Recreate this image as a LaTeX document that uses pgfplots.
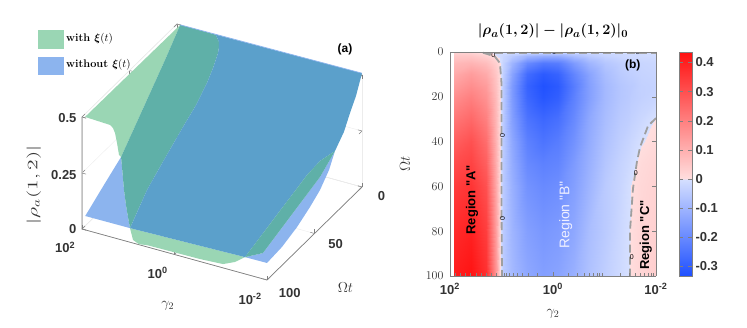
\documentclass[border=0pt]{standalone}
\usepackage{amsmath}
\usepackage{graphicx}
\usepackage{fontspec}
\usepackage{pgfplots}
\pgfplotsset{compat=1.18}
\newfontfamily\arialf{Liberation Sans}
\definecolor{gonly}{HTML}{9AD6B4}
\definecolor{bonly}{HTML}{8CB4EE}
\definecolor{teal1}{HTML}{5FB0A8}
\definecolor{blue1}{HTML}{5BA0CB}
\pgfplotsset{
  patch3d/.style={draw=none, fill=#1, mark=none, forget plot},
  ticktext/.style={font=\arialf\bfseries\fontsize{13}{13}\selectfont, text=black!80},
  contour0/.style={gray!75, line width=1.8pt, dash pattern=on 8pt off 4pt, mark=none},
}
\begin{document}
\begin{tikzpicture}[x=1pt,y=1pt]
\useasboundingbox (0,0) rectangle (747,328);
% panel (a)
\begin{axis}[
  at={(269.5pt,166.5pt)}, anchor=origin,
  x={(-46.25pt,12.75pt)}, y={(-0.95pt,-0.93pt)}, z={(0pt,224pt)},
  xmin=-2, xmax=2, ymin=0, ymax=100, zmin=0, zmax=0.5,
  clip=false,
  xtick={2,0,-2}, xticklabels={10\textsuperscript{2},10\textsuperscript{0},10\textsuperscript{-2}},
  ytick={0,50,100}, yticklabels={0,50,100},
  ztick={0,0.25,0.5}, zticklabels={0,0.25,0.5},
  ticklabel style={ticktext},
  xticklabel style={xshift=-12pt, yshift=-7pt},
  yticklabel style={xshift=13pt},
  zticklabel style={xshift=-2pt, yshift=2pt},
  tick style={gray, line width=0.5pt},
  axis line style={gray!20, line width=0.5pt},
  grid=major, grid style={gray!15, line width=0.4pt},
  xlabel={$\gamma_2$}, ylabel={$\Omega t$},
  zlabel={\scalebox{1.5}[1]{$|\rho_a(1,2)|$}},
  label style={font=\fontsize{14}{14}\selectfont, text=black!80},
  xlabel style={xshift=12pt, yshift=-7pt},
  ylabel style={xshift=-1pt, yshift=-12pt},
  zlabel style={yshift=3pt},
]
\addplot3[gray, line width=0.7pt, mark=none, forget plot] coordinates {(2,100,0.5) (2,100,0) (-2,100,0) (-2,0,0)};
% with xi(t), left sheet
\addplot3[patch3d=gonly] coordinates {
  (1.935,100,0.504) (1.395,100,0.499) (1.33,100,0.489) (1.286,100,0.469) (1.243,100,0.427) (1.2,100,0.376) (1.93,62.3,0.169)
  (1.93,42.3,0.273) (1.93,16,0.410) (1.93,0,0.5)} -- cycle;
% without xi(t), left corner
\addplot3[patch3d=bonly] coordinates {
  (1.93,100,0.062) (1.93,81.3,0.116) (1.93,62.3,0.169) (1.135,100,0.326)
  (1.092,100,0.226) (1.049,100,0.161) (1.005,100,0.110) (0.962,100,0.063)} -- cycle;
% with xi(t), front strip
\addplot3[patch3d=gonly] coordinates {
  (0.962,100,0.063) (0.897,100,0.014) (0.768,100,0.002) (0.595,100,0.008) (-0.551,100,0.011)
  (-1.05,100,0.017) (-1.308,100,0.041) (-1.524,100,0.075)} -- cycle;
% overlap band
\addplot3[patch3d=teal1] coordinates {
  (1.93,62.3,0.169) (1.93,42.3,0.273) (1.93,16,0.410) (1.93,0,0.5) (1.222,0,0.5)
  (1.105,2.5,0.512) (0.99,5,0.498) (0.928,8,0.491) (0.908,10,0.474) (0.852,18,0.443) (0.838,25,0.407)
  (0.829,37,0.358) (0.843,50,0.314) (0.945,64,0.227) (1.005,80,0.148)
  (0.962,100,0.063) (1.005,100,0.110) (1.049,100,0.161) (1.092,100,0.226) (1.135,100,0.326)} -- cycle;
% overlap, main part
\addplot3[patch3d=blue1] coordinates {
  (0.962,100,0.063) (-1.524,100,0.075) (-1.3,56.4,0.065) (-1.5,33.6,0.164) (-1.6,24.7,0.196) (-2,28.4,0.279)
  (-2,19,0.325) (-2,12.6,0.383) (-2,6.3,0.433) (-2,0,0.508) (1.222,0,0.5)
  (1.105,2.5,0.512) (0.99,5,0.498) (0.928,8,0.491) (0.908,10,0.474) (0.852,18,0.443) (0.838,25,0.407)
  (0.829,37,0.358) (0.843,50,0.314) (0.945,64,0.227) (1.005,80,0.148)} -- cycle;
% without xi(t), right corner
\addplot3[patch3d=bonly] coordinates {
  (-1.524,100,0.075) (-2,100,0.076) (-2,84.2,0.082) (-2,68.4,0.105) (-2,54.7,0.138) (-2,44.2,0.170) (-2,34.7,0.220) (-2,28.4,0.279)
  (-1.8,34.5,0.176) (-1.7,58,0.108) (-1.9,99.4,0.112)} -- cycle;
% overlap, right part
\addplot3[patch3d=teal1] coordinates {
  (-2,28.4,0.279) (-1.6,24.7,0.196) (-1.5,33.6,0.164) (-1.3,56.4,0.065) (-1.524,100,0.075)
  (-1.9,99.4,0.112) (-1.7,58,0.108) (-1.8,34.5,0.176)} -- cycle;
\addplot3[bonly, line width=0.7pt, mark=none, forget plot] coordinates {(1.93,0,0.5) (-2,0,0.508)};
\end{axis}
% legend of panel (a)
\fill[gonly] (38,279) rectangle (64,298);
\fill[bonly] (38,253) rectangle (64,271);
\node[anchor=west, inner sep=0pt, font=\fontsize{11}{11}\selectfont\bfseries] at (66,289) {with $\boldsymbol{\xi}(t)$};
\node[anchor=west, inner sep=0pt, font=\fontsize{11}{11}\selectfont\bfseries] at (66,263) {without $\boldsymbol{\xi}(t)$};
\node[font=\arialf\bfseries\fontsize{12}{12}\selectfont] at (345,279) {(a)};
% panel (b)
\begin{axis}[
  at={(450pt,52pt)}, anchor=south west,
  width=206pt, height=224pt, scale only axis,
  view={0}{90},
  x dir=reverse, y dir=reverse,
  xmin=-2, xmax=2, ymin=0, ymax=100,
  point meta min=-0.334, point meta max=0.436,
  colormap={rb}{rgb255(0pt)=(31,80,255); rgb255(334pt)=(214,224,255); rgb255(335pt)=(255,222,222); rgb255(770pt)=(255,16,16)},
  colorbar, 
  colorbar style={width=13pt, at={(1.1117,0.5)}, anchor=west, xshift=0pt,
    ytick={-0.3,-0.2,-0.1,0,0.1,0.2,0.3,0.4},
    yticklabels={-0.3,-0.2,-0.1,0,0.1,0.2,0.3,0.4},
    yticklabel style={ticktext},
    axis line style={gray},
    tick style={gray},
  },
  xtick={2,0,-2}, xticklabels={10\textsuperscript{2},10\textsuperscript{0},10\textsuperscript{-2}},
  minor xtick={1.9,1.8,1.7,1.6,1.5,1.4,1.3,1.2,1.1,0.95,0.9,0.85,0.78,0.7,0.6,0.48,0.3,
    -0.3,-0.48,-0.6,-0.7,-0.78,-0.85,-0.9,-0.95,-1.3,-1.48,-1.6,-1.7,-1.78,-1.85,-1.9,-1.95},
  ytick={0,20,40,60,80,100},
  xtick pos=left, ytick pos=right,
  tick align=inside,
  ticklabel style={ticktext},
  xticklabel style={yshift=-4pt},
  yticklabel style={xshift=-3pt},
  tick style={gray, line width=0.5pt},
  axis line style={gray, line width=0.7pt},
  xlabel={$\gamma_2$}, ylabel={$\Omega t$},
  label style={font=\fontsize{14}{14}\selectfont, text=black!80},
  xlabel style={yshift=-8pt},
  ylabel style={yshift=9pt},
  title={$\boldsymbol{|\rho_a(1,2)|-|\rho_a(1,2)|_0}$},
  title style={font=\fontsize{15.5}{15.5}\selectfont, yshift=4pt},
]
\addplot3[surf, shader=interp, mesh/cols=18] coordinates {
(1.93,0,.02) (1.6,0,.02) (1.3,0,-.005) (1.1,0,-.01) (1.02,0,-.01) (.98,0,-.01) (.8,0,-.015) (.5,0,-.02) (.2,0,-.02) (-.1,0,-.02) (-.4,0,-.02) (-.7,0,-.015) (-1,0,-.01) (-1.3,0,-.01) (-1.48,0,-.01) (-1.52,0,-.01) (-1.7,0,-.01) (-2,0,-.005)
(1.93,2,.05) (1.6,2,.05) (1.3,2,.03) (1.1,2,.003) (1.02,2,-.01) (.98,2,-.02) (.8,2,-.05) (.5,2,-.1) (.2,2,-.12) (-.1,2,-.12) (-.4,2,-.08) (-.7,2,-.05) (-1,2,-.03) (-1.3,2,-.02) (-1.48,2,-.015) (-1.52,2,-.015) (-1.7,2,-.012) (-2,2,-.01)
(1.93,5,.08) (1.6,5,.09) (1.3,5,.07) (1.1,5,.03) (1.02,5,.001) (.98,5,-.03) (.8,5,-.1) (.5,5,-.2) (.2,5,-.24) (-.1,5,-.23) (-.4,5,-.16) (-.7,5,-.1) (-1,5,-.06) (-1.3,5,-.04) (-1.48,5,-.03) (-1.52,5,-.03) (-1.7,5,-.025) (-2,5,-.02)
(1.93,10,.11) (1.6,10,.14) (1.3,10,.11) (1.1,10,.05) (1.02,10,.006) (.98,10,-.04) (.8,10,-.14) (.5,10,-.27) (.2,10,-.31) (-.1,10,-.29) (-.4,10,-.21) (-.7,10,-.14) (-1,10,-.08) (-1.3,10,-.05) (-1.48,10,-.04) (-1.52,10,-.04) (-1.7,10,-.03) (-2,10,-.025)
(1.93,15,.14) (1.6,15,.17) (1.3,15,.14) (1.1,15,.06) (1.02,15,.008) (.98,15,-.05) (.8,15,-.16) (.5,15,-.29) (.2,15,-.33) (-.1,15,-.31) (-.4,15,-.23) (-.7,15,-.15) (-1,15,-.09) (-1.3,15,-.06) (-1.48,15,-.05) (-1.52,15,-.05) (-1.7,15,-.035) (-2,15,-.03)
(1.93,20,.17) (1.6,20,.2) (1.3,20,.16) (1.1,20,.07) (1.02,20,.01) (.98,20,-.05) (.8,20,-.16) (.5,20,-.28) (.2,20,-.32) (-.1,20,-.3) (-.4,20,-.22) (-.7,20,-.15) (-1,20,-.09) (-1.3,20,-.06) (-1.48,20,-.05) (-1.52,20,-.045) (-1.7,20,-.035) (-2,20,-.025)
(1.93,30,.22) (1.6,30,.25) (1.3,30,.2) (1.1,30,.08) (1.02,30,.01) (.98,30,-.05) (.8,30,-.15) (.5,30,-.25) (.2,30,-.28) (-.1,30,-.26) (-.4,30,-.2) (-.7,30,-.13) (-1,30,-.08) (-1.3,30,-.05) (-1.48,30,-.04) (-1.52,30,-.035) (-1.7,30,-.02) (-2,30,.002)
(1.93,40,.27) (1.6,40,.3) (1.3,40,.24) (1.1,40,.09) (1.02,40,.01) (.98,40,-.05) (.8,40,-.13) (.5,40,-.22) (.2,40,-.25) (-.1,40,-.23) (-.4,40,-.18) (-.7,40,-.12) (-1,40,-.07) (-1.3,40,-.04) (-1.48,40,-.025) (-1.52,40,-.02) (-1.7,40,-.002) (-2,40,.01)
(1.93,50,.31) (1.6,50,.33) (1.3,50,.27) (1.1,50,.1) (1.02,50,.01) (.98,50,-.05) (.8,50,-.12) (.5,50,-.2) (.2,50,-.22) (-.1,50,-.21) (-.4,50,-.16) (-.7,50,-.11) (-1,50,-.06) (-1.3,50,-.03) (-1.48,50,-.015) (-1.52,50,-.01) (-1.7,50,.01) (-2,50,.02)
(1.93,60,.34) (1.6,60,.36) (1.3,60,.3) (1.1,60,.11) (1.02,60,.01) (.98,60,-.05) (.8,60,-.11) (.5,60,-.18) (.2,60,-.2) (-.1,60,-.19) (-.4,60,-.15) (-.7,60,-.1) (-1,60,-.05) (-1.3,60,-.025) (-1.48,60,-.005) (-1.52,60,.001) (-1.7,60,.015) (-2,60,.025)
(1.93,80,.38) (1.6,80,.4) (1.3,80,.34) (1.1,80,.13) (1.02,80,.01) (.98,80,-.05) (.8,80,-.1) (.5,80,-.15) (.2,80,-.17) (-.1,80,-.16) (-.4,80,-.13) (-.7,80,-.08) (-1,80,-.05) (-1.3,80,-.02) (-1.48,80,-.002) (-1.52,80,.004) (-1.7,80,.02) (-2,80,.03)
(1.93,100,.41) (1.6,100,.43) (1.3,100,.37) (1.1,100,.15) (1.02,100,.01) (.98,100,-.05) (.8,100,-.09) (.5,100,-.13) (.2,100,-.15) (-.1,100,-.14) (-.4,100,-.11) (-.7,100,-.07) (-1,100,-.04) (-1.3,100,-.015) (-1.48,100,-.001) (-1.52,100,.005) (-1.7,100,.02) (-2,100,.035)
};
\addplot3[contour0] coordinates {
  (1.36,0.3,0.5) (1.13,2,0.5) (1.03,5,0.5) (1,14,0.5) (1,40,0.5) (1,70,0.5) (0.99,100,0.5)};
\addplot3[contour0] coordinates {
  (-2,29.5,0.5) (-1.845,33,0.5) (-1.69,42.5,0.5) (-1.63,49,0.5) (-1.553,61,0.5) (-1.495,80,0.5) (-1.495,100,0.5)};
\addplot3[contour0] coordinates {
  (1.36,0.3,0.5) (-2,0.3,0.5)};
\foreach \px/\py/\rot in {1.16/1.6/0, 0.98/37.2/90, 0.98/74.5/90, -0.02/0/0, -1.64/0/0, -1.61/54/0, -1.53/91.4/0} {
  \edef\temp{\noexpand\node[font=\noexpand\arialf\noexpand\fontsize{7}{7}\noexpand\selectfont, rotate=\rot, inner sep=0.5pt] at (axis cs:\px,\py,0.5) {0};}
  \temp
}
\node[rotate=90, font=\arialf\bfseries\fontsize{13}{13}\selectfont] at (axis cs:1.57,66,0.5) {Region "A"};
\node[rotate=90, text=blue!6!white, font=\arialf\fontsize{14}{14}\selectfont] at (axis cs:-0.25,72.7,0.5) {Region "B"};
\node[rotate=90, font=\arialf\bfseries\fontsize{13}{13}\selectfont] at (axis cs:-1.8,81.7,0.5) {Region "C"};
\node[font=\arialf\bfseries\fontsize{12}{12}\selectfont] at (axis cs:-1.55,6,0.5) {(b)};
\end{axis}
\end{tikzpicture}
\end{document}
